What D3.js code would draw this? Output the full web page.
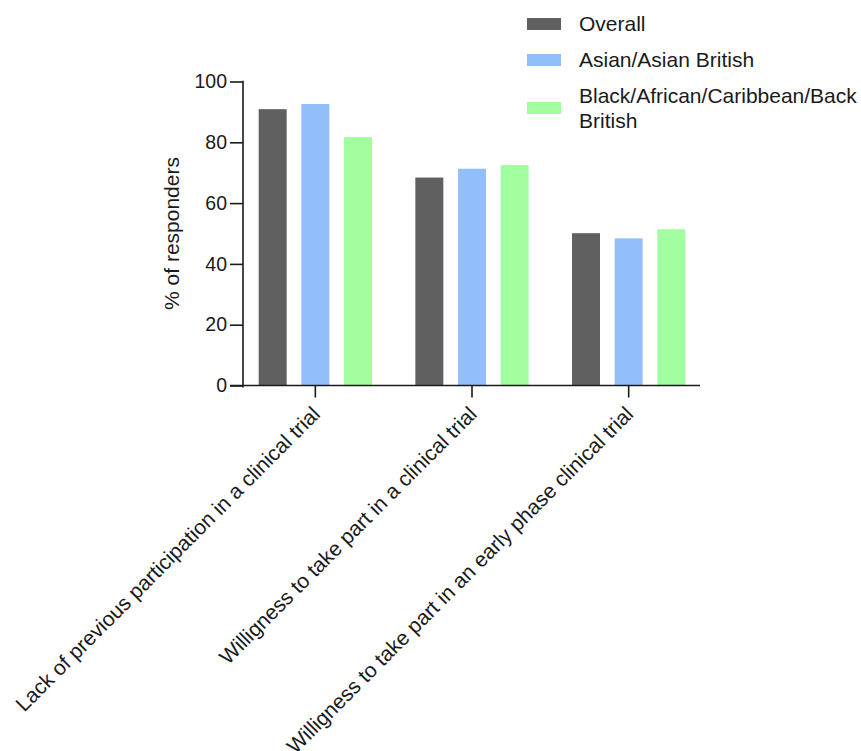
<!DOCTYPE html>
<html>
<head>
<meta charset="utf-8">
<script src="https://cdn.jsdelivr.net/npm/d3@7/dist/d3.min.js"></script>
<style>
  html, body { margin: 0; padding: 0; background: #fff; }
  svg { display: block; }
  text { font-family: "Liberation Sans", Arial, Helvetica, sans-serif; fill: #1a1a1a; }
</style>
</head>
<body>
<svg id="chart" width="861" height="751"></svg>
<script>
const categories = [
  "Lack of previous participation in a clinical trial",
  "Willigness to take part in a clinical trial",
  "Willigness to take part in an early phase clinical trial"
];
const seriesNames = ["Overall", "Asian/Asian British", "Black/African/Caribbean/Back British"];
const legendLines = [["Overall"], ["Asian/Asian British"], ["Black/African/Caribbean/Back", "British"]];
const overall = [90.9, 68.4, 50.1];
const asian = [92.6, 71.3, 48.4];
const black = [81.7, 72.5, 51.4];
const yTicks = [0, 20, 40, 60, 80, 100];
const colors = ["#606060", "#92bffa", "#a2fd9f"];

const seriesValues = [overall, asian, black];

const svg = d3.select("#chart");

const y = d3.scaleLinear().domain([0, 100]).range([385.5, 81.5]);
const x0 = d3.scaleBand().domain(categories).range([237, 707]).padding(0);
const x1 = d3.scaleBand().domain(seriesNames).range([-64, 64])
  .paddingInner(0.344).paddingOuter(0.172);

// bars
const groups = svg.append("g").selectAll("g")
  .data(categories)
  .join("g")
  .attr("transform", d => `translate(${x0(d) + x0.bandwidth() / 2},0)`);

groups.selectAll("rect")
  .data((c, i) => seriesNames.map((s, j) => ({ s, j, v: seriesValues[j][i] })))
  .join("rect")
  .attr("x", d => x1(d.s))
  .attr("width", x1.bandwidth())
  .attr("y", d => y(d.v))
  .attr("height", d => y(0) - y(d.v))
  .attr("fill", d => colors[d.j]);

// y axis
const yAxis = d3.axisLeft(y).tickValues(yTicks).tickSize(13).tickSizeOuter(0).tickPadding(3);
const gy = svg.append("g").attr("transform", "translate(243,0)").call(yAxis);
gy.select(".domain").remove();
gy.selectAll(".tick line").attr("stroke", "#1a1a1a").attr("stroke-width", 1.6);
gy.selectAll(".tick text").style("font-size", "19.5px").attr("fill", "#1a1a1a");
svg.append("line").attr("x1", 243).attr("x2", 243).attr("y1", y(100) - 0.8).attr("y2", y(0) + 2)
  .attr("stroke", "#1a1a1a").attr("stroke-width", 1.6);

// x axis
const xAxis = d3.axisBottom(x0).tickSize(12).tickSizeOuter(0).tickFormat("");
const gx = svg.append("g").attr("transform", `translate(0,${y(0)})`).call(xAxis);
gx.select(".domain").remove();
gx.selectAll(".tick line").attr("stroke", "#1a1a1a").attr("stroke-width", 1.6);
svg.append("line").attr("x1", 230).attr("x2", 700).attr("y1", y(0)).attr("y2", y(0))
  .attr("stroke", "#1a1a1a").attr("stroke-width", 1.6);

// x labels rotated
svg.append("g").selectAll("text")
  .data(categories)
  .join("text")
  .attr("text-anchor", "end")
  .attr("transform", d => `translate(${x0(d) + x0.bandwidth() / 2 + 6},${y(0) + 30}) rotate(-45)`)
  .style("font-size", "21px")
  .text(d => d);

// y label
svg.append("text")
  .attr("text-anchor", "middle")
  .attr("transform", `translate(179,${(y(0) + y(100)) / 2}) rotate(-90)`)
  .style("font-size", "21px")
  .text("% of responders");

// legend
const legendY = [24, 60, 108];
const leg = svg.append("g").selectAll("g")
  .data(seriesNames)
  .join("g")
  .attr("transform", (d, i) => `translate(527,${legendY[i]})`);
leg.append("rect").attr("x", 0).attr("y", -6).attr("width", 34).attr("height", 12)
  .attr("fill", (d, i) => colors[i]);
leg.each(function (d, i) {
  const lines = legendLines[i];
  const t = d3.select(this).append("text").attr("x", 52).style("font-size", "21px");
  const lh = 25;
  const start = -(lines.length - 1) * lh / 2;
  lines.forEach((ln, k) => {
    t.append("tspan").attr("x", 52).attr("y", start + k * lh + 7).text(ln);
  });
});
</script>
</body>
</html>
